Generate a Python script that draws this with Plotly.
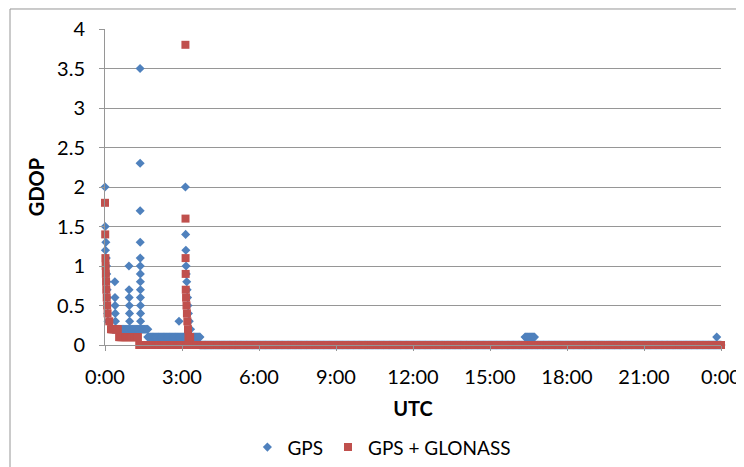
import plotly.graph_objects as go

# ---------------- data (minutes after 0:00 UTC, GDOP) ----------------
# GPS only: individual readings during the convergence periods
gps_minutes = [0, 0.5, 1, 2, 3, 3.5, 4, 4.5, 5, 5.5, 6, 6.5, 7,
               23, 23.3, 23.6, 24, 24.5,
               56, 56.3, 56.6, 57, 57.3, 57.6,
               82, 82.1, 82.2, 82.3, 82.4, 82.5, 82.6, 82.7, 82.8, 82.9, 83, 83.1, 83.2,
               173,
               188, 188.5, 189, 189.5, 190, 191, 192, 193, 194, 195, 197, 200,
               1430]
gps_gdop = [2.0, 1.5, 1.2, 1.3, 1.1, 1.0, 0.9, 0.8, 0.7, 0.6, 0.5, 0.4, 0.3,
            0.8, 0.6, 0.5, 0.4, 0.3,
            1.0, 0.7, 0.6, 0.5, 0.4, 0.3,
            3.5, 2.3, 1.7, 1.3, 1.1, 1.0, 0.9, 0.8, 0.7, 0.6, 0.5, 0.4, 0.3,
            0.3,
            2.0, 1.4, 1.2, 1.0, 0.9, 0.8, 0.7, 0.6, 0.5, 0.4, 0.3, 0.2,
            0.1]
# GPS only: periods of constant GDOP (start min, end min, GDOP)
gps_runs = [(18, 100, 0.2), (100, 222, 0.1), (222, 1440, 0.0), (982, 1005, 0.1)]

# GPS + GLONASS: individual readings
glo_minutes = [0, 0.5, 1, 1.5, 2, 2.5, 3, 4, 5, 6, 10,
               188, 188.2, 188.4, 188.6, 188.8, 189.5, 190.5, 191.5, 192.5, 194]
glo_gdop = [1.8, 1.4, 1.1, 1.0, 0.9, 0.8, 0.7, 0.6, 0.5, 0.4, 0.3,
            3.8, 1.6, 1.1, 0.9, 0.7, 0.6, 0.5, 0.4, 0.3, 0.2]
# GPS + GLONASS: periods of constant GDOP
glo_runs = [(14, 31, 0.2), (33, 78, 0.1), (80, 1440, 0.0), (195, 200, 0.1)]

sample_step = 2  # logging interval in minutes
tick_minutes = [0, 180, 360, 540, 720, 900, 1080, 1260, 1440]
tick_labels = ["0:00", "3:00", "6:00", "9:00", "12:00", "15:00", "18:00", "21:00", "0:00"]


def expand(minutes, values, runs):
    xs, ys = list(minutes), list(values)
    for start, end, v in runs:
        t = start
        while t <= end:
            xs.append(t)
            ys.append(v)
            t += sample_step
    return xs, ys


gx, gy = expand(gps_minutes, gps_gdop, gps_runs)
rx, ry = expand(glo_minutes, glo_gdop, glo_runs)

FONT = "Lato, 'Open Sans', sans-serif"
GRID = "#969696"

fig = go.Figure()
fig.add_trace(go.Scatter(x=gx, y=gy, mode="markers", name="GPS",
                         marker=dict(symbol="diamond", size=7, color="#4F81BD"),
                         cliponaxis=False))
fig.add_trace(go.Scatter(x=rx, y=ry, mode="markers", name="GPS + GLONASS",
                         marker=dict(symbol="square", size=8, color="#C0504D"),
                         cliponaxis=False))

# page body has an 8px margin, so the figure is 8px smaller than the window
fig.update_layout(
    width=736, height=459,
    margin=dict(l=97, r=23, t=21, b=122, autoexpand=False),
    paper_bgcolor="white", plot_bgcolor="white",
    font=dict(family=FONT, size=20, color="black"),
    showlegend=True,
    legend=dict(orientation="h", xref="container", yref="container",
                x=0.508, y=0.043, xanchor="center", yanchor="middle",
                font=dict(size=19), itemwidth=30),
    xaxis=dict(range=[0, 1440], tickvals=tick_minutes, ticktext=tick_labels,
               showgrid=False, zeroline=False, showline=True, linecolor=GRID,
               ticks="outside", ticklen=5, tickcolor=GRID, ticklabelstandoff=9,
               tickfont=dict(size=20), automargin=False,
               title=dict(text="<b>UTC</b>", font=dict(size=20), standoff=14)),
    yaxis=dict(range=[0, 4], dtick=0.5, showgrid=True, gridcolor=GRID, gridwidth=1,
               zeroline=False, showline=True, linecolor=GRID,
               ticks="outside", ticklen=5, tickcolor=GRID, ticklabelstandoff=10,
               tickfont=dict(size=20), automargin=False,
               title=dict(text="<b>GDOP</b>", font=dict(size=20), standoff=7)),
    shapes=[dict(type="rect", xref="paper", yref="paper",
                 x0=-0.1542, x1=1.5, y0=-1.0, y1=1.0633,
                 line=dict(color=GRID, width=1), fillcolor="rgba(0,0,0,0)", layer="below")],
)

fig.write_html("out.html")
